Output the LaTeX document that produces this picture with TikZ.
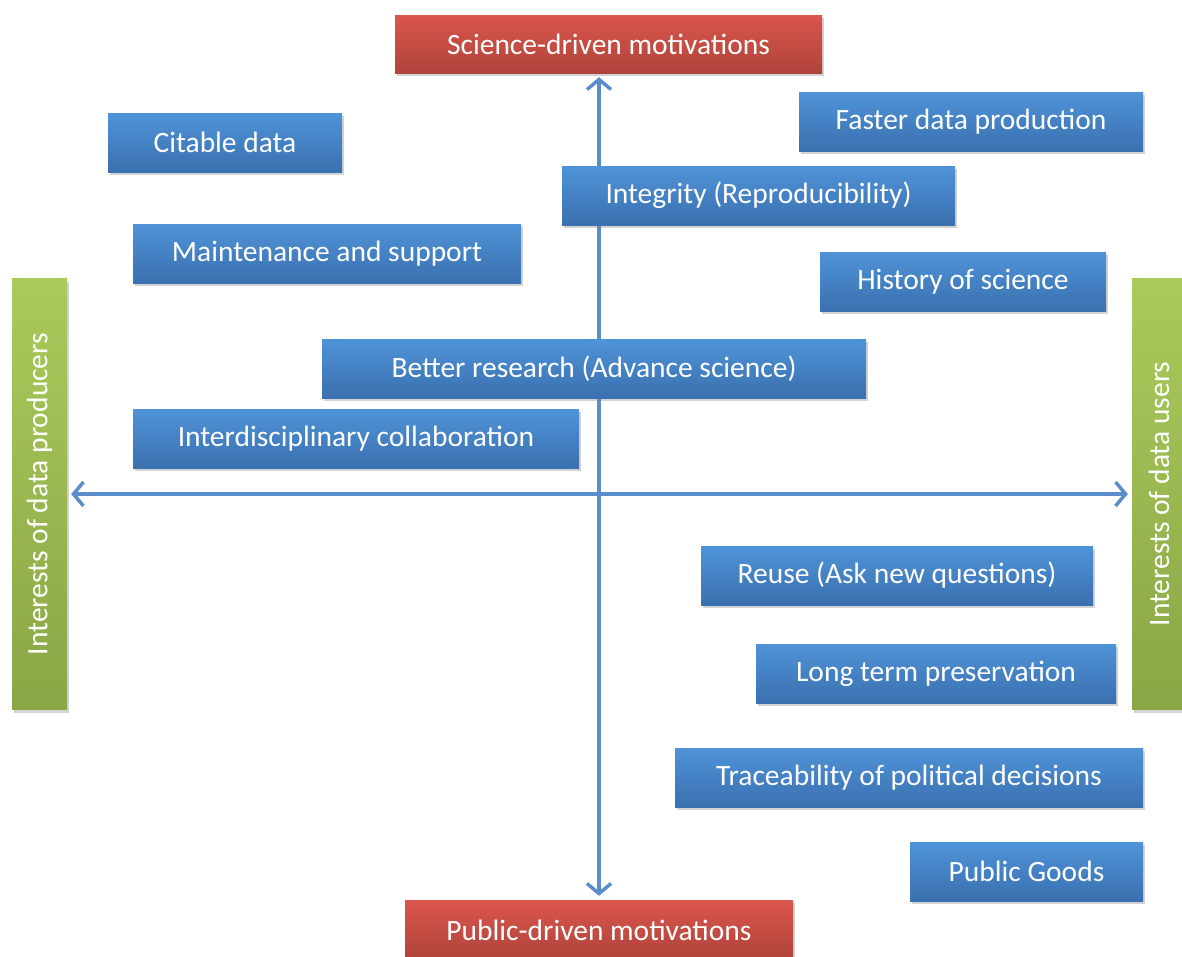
\documentclass[tikz,border=0pt]{standalone}
\usepackage{fontspec}
\setmainfont{Carlito}
\usetikzlibrary{arrows.meta,shadows}
\definecolor{boxtop}{HTML}{4F93D8}
\definecolor{boxbot}{HTML}{3A70AF}
\definecolor{redtop}{HTML}{DA564C}
\definecolor{redbot}{HTML}{AF433B}
\definecolor{grntop}{HTML}{AACA5B}
\definecolor{grnbot}{HTML}{8AA646}
\definecolor{axis}{HTML}{5B8CCB}
\tikzset{
  motive/.style={draw=none,text=white,inner sep=0pt,minimum height=59pt,
    font=\fontsize{29.5}{33}\selectfont,
    drop shadow={shadow xshift=2pt,shadow yshift=-3pt,opacity=0.35}},
  bluebox/.style={motive,top color=boxtop,bottom color=boxbot},
  redbox/.style={motive,top color=redtop,bottom color=redbot},
  greenbox/.style={motive,rotate=90,top color=grntop,bottom color=grnbot,
    minimum height=55pt,minimum width=431pt},
  axisline/.style={draw=axis,line width=3.5pt,line cap=round,
    {Straight Barb[length=10pt,width=24pt,line width=3.5pt]}-{Straight Barb[length=10pt,width=24pt,line width=3.5pt]},
    shorten <=4pt,shorten >=4pt}
}
\begin{document}
\begin{tikzpicture}[x=1pt,y=-1pt]
  \useasboundingbox (0,0) rectangle (1182,956);
  % the two axes and their end boxes
  \node[redbox,minimum width=427pt,minimum height=58pt] (sci) at (608.5,44) {Science-driven motivations};
  \node[redbox,minimum width=388pt,minimum height=60pt] (pub) at (599,930) {Public-driven motivations};
  \node[greenbox] (prod) at (39.5,494) {Interests of data producers};
  \node[greenbox,minimum height=54pt] (users) at (1159,494) {Interests of data users};
  \draw[axisline] (sci.south -| pub.north) -- (pub.north);
  \draw[axisline] (prod.south) -- (users.north);
  % motivations
  \node[bluebox,minimum width=234pt] (cite) at (225,142.5) {Citable data};
  \node[bluebox,minimum width=344pt] (fast) at (971,121.5) {Faster data production};
  \node[bluebox,minimum width=393pt] (integ) at (758.5,195.5) {Integrity (Reproducibility)};
  \node[bluebox,minimum width=388pt] (maint) at (327,253.5) {Maintenance and support};
  \node[bluebox,minimum width=286pt] (hist) at (963,281.5) {History of science};
  \node[bluebox,minimum width=544pt] (better) at (594,368.5) {Better research (Advance science)};
  \node[bluebox,minimum width=446pt] (inter) at (356,438.5) {Interdisciplinary collaboration};
  \node[bluebox,minimum width=392pt] (reuse) at (897,575.5) {Reuse (Ask new questions)};
  \node[bluebox,minimum width=360pt] (long) at (936,673.5) {Long term preservation};
  \node[bluebox,minimum width=468pt] (trace) at (909,777.5) {Traceability of political decisions};
  \node[bluebox,minimum width=233pt] (goods) at (1026.5,871.5) {Public Goods};
\end{tikzpicture}
\end{document}
